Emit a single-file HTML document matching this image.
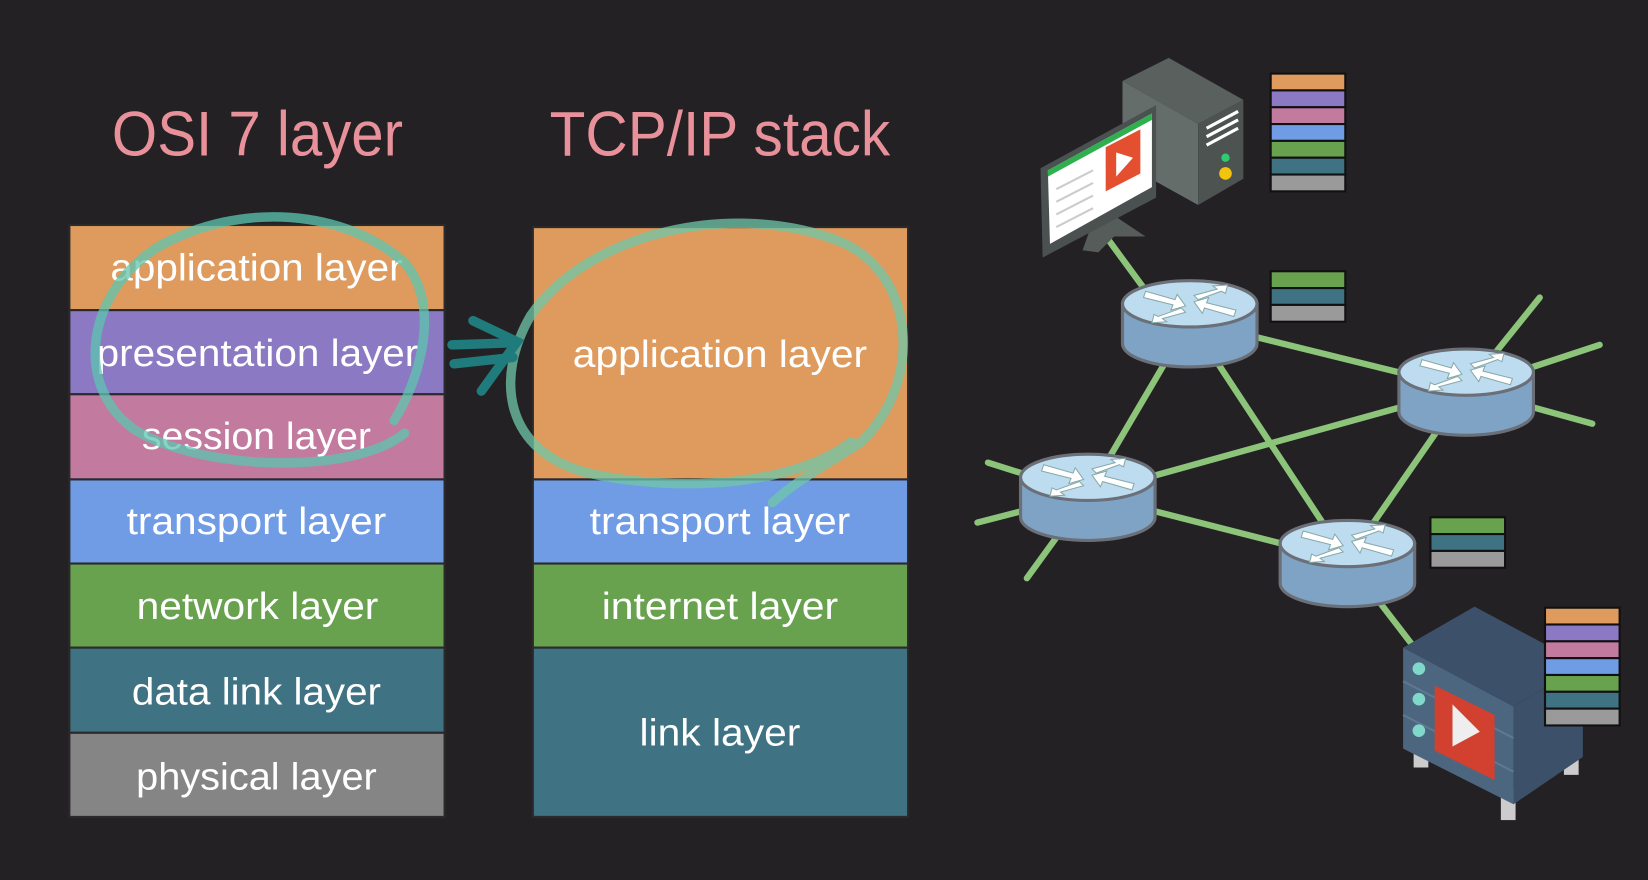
<!DOCTYPE html>
<html><head><meta charset="utf-8"><style>
html,body{margin:0;padding:0;background:#232124;}
svg{display:block}
.t{font-family:"Liberation Sans Narrow","Liberation Sans",sans-serif;fill:#fff;font-size:36px;text-anchor:middle}
.h{font-family:"Liberation Sans Narrow","Liberation Sans",sans-serif;fill:#e8919a;font-size:60px;text-anchor:middle}
</style></head><body>
<svg width="1648" height="880" viewBox="0 0 1568 837" preserveAspectRatio="none" xmlns="http://www.w3.org/2000/svg">
<rect width="1568" height="837" fill="#232124"/>
<text class="h" x="245" y="148" textLength="277" lengthAdjust="spacingAndGlyphs">OSI 7 layer</text>
<text class="h" x="685" y="148" textLength="324" lengthAdjust="spacingAndGlyphs">TCP/IP stack</text>
<g stroke="#2a2a2c" stroke-width="2">
<rect x="66" y="214" width="357" height="81" fill="#de9b5d"/>
<rect x="66" y="295" width="357" height="80" fill="#8c79c3"/>
<rect x="66" y="375" width="357" height="81" fill="#c27a9f"/>
<rect x="66" y="456" width="357" height="80" fill="#709ce6"/>
<rect x="66" y="536" width="357" height="80" fill="#69a24f"/>
<rect x="66" y="616" width="357" height="81" fill="#3f7282"/>
<rect x="66" y="697" width="357" height="80" fill="#858585"/>
<rect x="507" y="216" width="357" height="240" fill="#de9b5d"/>
<rect x="507" y="456" width="357" height="80" fill="#709ce6"/>
<rect x="507" y="536" width="357" height="80" fill="#69a24f"/>
<rect x="507" y="616" width="357" height="161" fill="#3f7282"/>
</g>
<text class="t" x="244" y="267" textLength="278" lengthAdjust="spacingAndGlyphs">application layer</text>
<text class="t" x="245" y="348" textLength="306" lengthAdjust="spacingAndGlyphs">presentation layer</text>
<text class="t" x="244" y="427" textLength="218" lengthAdjust="spacingAndGlyphs">session layer</text>
<text class="t" x="244" y="508" textLength="247" lengthAdjust="spacingAndGlyphs">transport layer</text>
<text class="t" x="245" y="589" textLength="230" lengthAdjust="spacingAndGlyphs">network layer</text>
<text class="t" x="244" y="670" textLength="237" lengthAdjust="spacingAndGlyphs">data link layer</text>
<text class="t" x="244" y="751" textLength="229" lengthAdjust="spacingAndGlyphs" fill="#d8d8d8">physical layer</text>
<text class="t" x="685" y="349" textLength="280" lengthAdjust="spacingAndGlyphs">application layer</text>
<text class="t" x="685" y="508" textLength="248" lengthAdjust="spacingAndGlyphs">transport layer</text>
<text class="t" x="685" y="589" textLength="225" lengthAdjust="spacingAndGlyphs">internet layer</text>
<text class="t" x="685" y="709" textLength="153" lengthAdjust="spacingAndGlyphs">link layer</text>
<!-- annotations -->
<g fill="none" stroke-linecap="round" stroke-width="9" opacity="0.75">
<path d="M385 412 C340 450 200 450 130 410 C70 370 80 280 150 235 C230 190 330 200 385 250 C420 290 400 360 375 400" stroke="#5cc6b0"/>
<path d="M735 478 C760 455 790 440 820 420 C880 360 870 260 800 230 C700 190 560 220 505 300 C470 360 480 430 560 450 C650 470 760 460 810 420" stroke="#6fc7a8"/>
<path d="M430 328 L490 326 M432 346 L488 340 M450 305 L492 325 L458 372" stroke="#1e9a9a"/>
</g>
<!-- network lines -->
<g stroke="#8cc47a" stroke-width="6" stroke-linecap="round">
<line x1="1045" y1="215" x2="1100" y2="290"/>
<line x1="1132" y1="305" x2="1395" y2="370"/>
<line x1="1132" y1="305" x2="1282" y2="533"/>
<line x1="1132" y1="305" x2="1035" y2="470"/>
<line x1="1035" y1="470" x2="1395" y2="370"/>
<line x1="1035" y1="470" x2="1282" y2="533"/>
<line x1="1395" y1="370" x2="1282" y2="533"/>
<line x1="1395" y1="370" x2="1465" y2="283"/>
<line x1="1395" y1="370" x2="1522" y2="328"/>
<line x1="1395" y1="370" x2="1515" y2="403"/>
<line x1="1035" y1="470" x2="940" y2="440"/>
<line x1="1035" y1="470" x2="930" y2="497"/>
<line x1="1035" y1="470" x2="977" y2="550"/>
<line x1="1282" y1="533" x2="1345" y2="615"/>
</g>
<defs>
<g id="rt">
<path d="M-64 -16 L-64 22 A64 22 0 0 0 64 22 L64 -16 Z" fill="#7fa3c4" stroke="#6a6f78" stroke-width="3"/>
<ellipse cx="0" cy="-16" rx="64" ry="22" fill="#bddcf0" stroke="#6a6f78" stroke-width="3"/>
<g fill="#fff" stroke="#8aa" stroke-width="1">
<path d="M-42 -28 L-14 -20 L-12 -25 L-4 -14 L-18 -10 L-16 -15 L-44 -22Z"/>
<path d="M42 -4 L14 -12 L12 -7 L4 -18 L18 -22 L16 -17 L44 -10Z"/>
<path d="M4 -24 L26 -30 L22 -33 L36 -34 L34 -26 L30 -28 L8 -20Z"/>
<path d="M-4 -8 L-26 -2 L-22 1 L-36 2 L-34 -6 L-30 -4 L-8 -12Z"/>
</g>
</g>
<g id="s7">
<rect y="0" width="71" height="16" fill="#de9b5d"/><rect y="16" width="71" height="16" fill="#8c79c3"/><rect y="32" width="71" height="16" fill="#c27a9f"/><rect y="48" width="71" height="16" fill="#709ce6"/><rect y="64" width="71" height="16" fill="#69a24f"/><rect y="80" width="71" height="16" fill="#3f7282"/><rect y="96" width="71" height="16" fill="#9a9a9a"/>
</g>
<g id="s3">
<rect y="0" width="71" height="16" fill="#69a24f"/><rect y="16" width="71" height="16" fill="#3f7282"/><rect y="32" width="71" height="16" fill="#9a9a9a"/>
</g>
</defs>
<use href="#rt" x="1132" y="305"/>
<use href="#rt" x="1395" y="370"/>
<use href="#rt" x="1035" y="470"/>
<use href="#rt" x="1282" y="533"/>
<!-- computer -->
<polygon points="1068,77 1112,55 1183,95 1140,118" fill="#59605d"/>
<polygon points="1068,77 1140,118 1140,195 1068,155" fill="#656d6a"/>
<polygon points="1140,118 1183,95 1183,170 1140,195" fill="#4c5350"/>
<g stroke="#fff" stroke-width="3"><line x1="1148" y1="122" x2="1178" y2="106"/><line x1="1148" y1="130" x2="1178" y2="114"/><line x1="1148" y1="138" x2="1178" y2="122"/></g>
<circle cx="1166" cy="150" r="4" fill="#2ecc71"/><circle cx="1166" cy="165" r="6" fill="#f1c40f"/>
<polygon points="1040,210 1060,205 1090,225 1060,225 1045,240 1030,238" fill="#555c59"/>
<polygon points="990,160 1100,100 1100,188 992,245" fill="#4a5150"/>
<polygon points="997,162 1096,108 1096,178 999,232" fill="#fff"/>
<polygon points="997,162 1096,108 1096,114 997,168" fill="#2eb04f"/>
<polygon points="1052,140 1085,123 1085,165 1052,182" fill="#e4502f"/>
<polygon points="1062,145 1078,150 1062,168" fill="#fff"/>
<g stroke="#ccc" stroke-width="2"><line x1="1005" y1="180" x2="1040" y2="162"/><line x1="1005" y1="192" x2="1040" y2="174"/><line x1="1005" y1="204" x2="1040" y2="186"/><line x1="1005" y1="216" x2="1040" y2="198"/></g>
<!-- server -->
<rect x="1345" y="705" width="14" height="25" fill="#ccc"/><rect x="1428" y="750" width="14" height="30" fill="#ccc"/><rect x="1488" y="715" width="14" height="22" fill="#ccc"/>
<polygon points="1335,616 1403,577 1506,632 1440,672" fill="#3d5069"/>
<polygon points="1335,616 1440,672 1440,765 1335,712" fill="#4d6680"/>
<polygon points="1440,672 1506,632 1506,720 1440,765" fill="#3c5069"/>
<line x1="1335" y1="648" x2="1440" y2="702" stroke="#5e7891" stroke-width="2"/>
<line x1="1335" y1="680" x2="1440" y2="734" stroke="#5e7891" stroke-width="2"/>
<circle cx="1350" cy="636" r="6" fill="#7fd8c9"/><circle cx="1350" cy="665" r="6" fill="#7fd8c9"/><circle cx="1350" cy="695" r="6" fill="#7fd8c9"/>
<polygon points="1365,652 1422,680 1422,742 1365,714" fill="#d2402f"/>
<polygon points="1382,670 1408,696 1382,710" fill="#eee"/>
<g stroke="#111" stroke-width="2">
<use href="#s7" x="1209" y="70"/>
<use href="#s3" x="1209" y="258"/>
<use href="#s3" x="1361" y="492"/>
<use href="#s7" x="1470" y="578"/>
</g>
</svg>
</body></html>
